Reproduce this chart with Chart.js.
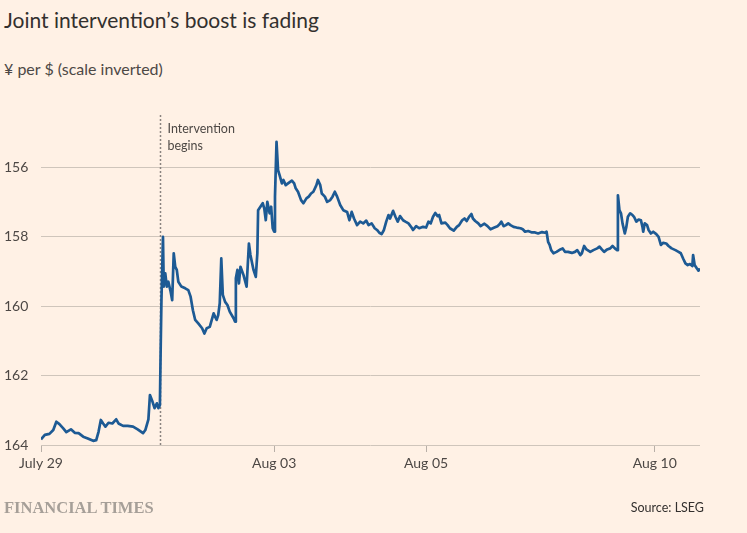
<!DOCTYPE html>
<html>
<head>
<meta charset="utf-8">
<script src="https://cdn.jsdelivr.net/npm/chart.js@4.4.1/dist/chart.umd.min.js"></script>
<style>
  html, body { margin:0; padding:0; background:#FFF1E5; }
  body { width:747px; height:533px; position:relative; overflow:hidden; font-family:Lato, "Noto Sans", sans-serif; color:#33302e; }
  #title { position:absolute; left:4px; top:7px; font-size:21px; white-space:nowrap; }
  #sub { position:absolute; left:4px; top:59px; font-size:16px; color:#4d4845; white-space:nowrap; }
  #ft { position:absolute; left:4px; top:498px; font-family:"Liberation Serif", "DejaVu Serif", serif; font-weight:bold; font-size:16.5px; color:#a69f98; letter-spacing:0px; white-space:nowrap; }
  #src { position:absolute; right:43px; top:500px; font-size:12.5px; color:#33302e; white-space:nowrap; }
  canvas { position:absolute; left:0; top:0; }
</style>
</head>
<body>
<div id="title">Joint intervention’s boost is fading</div>
<div id="sub">¥ per $ (scale inverted)</div>
<canvas id="c" width="747" height="533" style="width:747px;height:533px"></canvas>
<div id="ft">FINANCIAL TIMES</div>
<div id="src">Source: LSEG</div>
<script>
// time in trading days since July 29 (00:00)
const tradingDay = [
  0.00,0.05,0.11,0.16,0.20,0.24,0.29,0.33,0.39,0.44,
  0.49,0.55,0.61,0.68,0.72,0.75,0.78,0.81,0.84,0.88,
  0.93,0.98,1.01,1.07,1.13,1.20,1.26,1.33,1.36,1.40,
  1.42,1.45,1.48,1.51,1.53,1.55,1.56,1.57,1.59,1.60,
  1.62,1.64,1.66,1.69,1.71,1.73,1.75,1.77,1.79,1.83,
  1.88,1.92,1.95,1.98,2.01,2.05,2.10,2.13,2.16,2.20,
  2.25,2.27,2.29,2.31,2.33,2.35,2.37,2.40,2.43,2.46,
  2.51,2.53,2.54,2.56,2.58,2.60,2.64,2.68,2.71,2.73,
  2.77,2.80,2.82,2.83,2.86,2.89,2.91,2.93,2.95,2.98,
  3.00,3.02,3.04,3.05,3.07,3.09,3.11,3.14,3.16,3.19,
  3.22,3.27,3.30,3.32,3.35,3.39,3.42,3.46,3.49,3.52,
  3.55,3.59,3.61,3.64,3.66,3.70,3.73,3.77,3.80,3.83,
  3.86,3.90,3.94,3.99,4.02,4.05,4.08,4.12,4.16,4.20,
  4.24,4.27,4.31,4.35,4.38,4.41,4.44,4.47,4.50,4.53,
  4.55,4.59,4.62,4.65,4.68,4.72,4.75,4.79,4.83,4.85,
  4.89,4.93,4.98,5.02,5.05,5.08,5.11,5.14,5.17,5.19,
  5.22,5.27,5.30,5.33,5.38,5.42,5.45,5.49,5.52,5.55,
  5.58,5.61,5.63,5.66,5.70,5.73,5.78,5.82,5.86,5.91,
  5.95,5.98,6.00,6.03,6.06,6.09,6.12,6.16,6.20,6.25,
  6.28,6.31,6.35,6.40,6.44,6.48,6.53,6.57,6.59,6.61,
  6.63,6.65,6.68,6.72,6.77,6.80,6.83,6.87,6.92,6.96,
  6.99,7.03,7.05,7.08,7.11,7.16,7.20,7.25,7.28,7.31,
  7.34,7.38,7.42,7.45,7.48,7.51,7.52,7.54,7.56,7.58,
  7.61,7.63,7.65,7.68,7.71,7.73,7.76,7.79,7.82,7.84,
  7.85,7.87,7.90,7.92,7.95,7.98,8.02,8.05,8.08,8.11,
  8.15,8.18,8.22,8.27,8.31,8.34,8.37,8.40,8.43,8.46,
  8.49,8.50,8.52,8.55,8.57,8.59
];
const yenPerDollar = [
  163.84,163.71,163.68,163.57,163.33,163.40,163.52,163.63,163.55,163.65,
  163.66,163.76,163.81,163.88,163.86,163.62,163.28,163.38,163.47,163.36,
  163.38,163.26,163.38,163.45,163.45,163.47,163.55,163.66,163.57,163.26,
  162.56,162.73,162.94,162.80,162.94,162.85,161.21,159.83,158.01,159.44,
  159.06,159.44,159.30,159.59,159.83,158.48,158.87,158.96,159.30,159.44,
  159.49,159.54,159.73,160.12,160.40,160.50,160.64,160.79,160.64,160.60,
  160.21,160.31,160.40,160.26,159.92,158.63,159.68,159.88,159.97,160.16,
  160.35,160.45,159.20,158.96,159.35,158.87,159.11,159.44,158.20,158.53,
  158.96,159.16,158.48,157.24,157.14,157.04,157.19,157.53,157.00,157.33,
  157.14,157.76,157.86,156.85,155.27,156.09,156.23,156.47,156.37,156.52,
  156.47,156.39,156.47,156.61,156.71,156.95,157.04,156.90,156.85,156.76,
  156.71,156.52,156.37,156.52,156.76,156.85,157.00,156.95,156.85,156.71,
  156.85,157.09,157.24,157.29,157.53,157.29,157.48,157.67,157.57,157.62,
  157.54,157.67,157.62,157.76,157.81,157.89,157.93,157.81,157.57,157.38,
  157.48,157.26,157.43,157.57,157.41,157.53,157.57,157.62,157.74,157.81,
  157.70,157.76,157.72,157.74,157.57,157.62,157.43,157.32,157.41,157.38,
  157.62,157.60,157.67,157.76,157.83,157.72,157.67,157.53,157.48,157.55,
  157.43,157.35,157.48,157.55,157.62,157.70,157.63,157.70,157.79,157.74,
  157.70,157.64,157.57,157.70,157.67,157.62,157.67,157.72,157.74,157.76,
  157.79,157.86,157.84,157.88,157.88,157.91,157.87,157.89,157.86,158.15,
  158.24,158.39,158.48,158.44,158.37,158.34,158.44,158.44,158.47,158.44,
  158.39,158.53,158.48,158.27,158.37,158.44,158.39,158.34,158.29,158.37,
  158.44,158.37,158.34,158.27,158.34,158.39,156.81,157.24,157.33,157.62,
  157.91,157.72,157.43,157.33,157.38,157.43,157.57,157.51,157.53,157.72,
  157.86,157.62,157.67,157.81,157.91,157.86,157.93,158.01,158.24,158.18,
  158.20,158.27,158.34,158.39,158.44,158.48,158.63,158.77,158.82,158.79,
  158.85,158.53,158.82,158.92,158.98,158.92
];
const xTickValues = [0, 3.04, 5.02, 8.00];
const xTickLabels = ['July 29', 'Aug 03', 'Aug 05', 'Aug 10'];
const yTickValues = [156, 158, 160, 162, 164];
const interventionDay = 1.55;
const interventionLabel = ['Intervention', 'begins'];

const points = tradingDay.map((d, i) => ({ x: d, y: yenPerDollar[i] }));
const tickFont = { family: 'Lato, "Noto Sans", sans-serif', size: 14 };

const annotate = {
  id: 'annotate',
  beforeDatasetsDraw(chart) {
    const { ctx, chartArea, scales } = chart;
    const x = Math.round(scales.x.getPixelForValue(interventionDay)) + 0.5;
    ctx.save();
    ctx.strokeStyle = '#8a8480';
    ctx.lineWidth = 1.5;
    ctx.setLineDash([2, 2]);
    ctx.beginPath();
    ctx.moveTo(x, chartArea.top);
    ctx.lineTo(x, chartArea.bottom);
    ctx.stroke();
    ctx.setLineDash([]);
    ctx.fillStyle = '#4d4845';
    ctx.font = '12.5px Lato, "Noto Sans", sans-serif';
    ctx.textBaseline = 'middle';
    ctx.textAlign = 'left';
    interventionLabel.forEach((t, i) => ctx.fillText(t, x + 7, chartArea.top + 14 + i * 17));
    ctx.restore();
  }
};

new Chart(document.getElementById('c'), {
  type: 'line',
  data: {
    datasets: [{
      data: points,
      borderColor: '#1d5a94',
      borderWidth: 2.7,
      pointRadius: 0,
      tension: 0,
      borderJoinStyle: 'round'
    }]
  },
  options: {
    responsive: false,
    animation: false,
    devicePixelRatio: 1,
    layout: { padding: { left: 4, right: 47, top: 115, bottom: 0 } },
    plugins: { legend: { display: false }, tooltip: { enabled: false } },
    scales: {
      x: {
        type: 'linear',
        min: 0,
        max: 8.59,
        afterFit(s) { s.height = 88; },
        afterBuildTicks(s) { s.ticks = xTickValues.map(v => ({ value: v })); },
        ticks: {
          autoSkip: false,
          maxRotation: 0,
          padding: 3,
          color: '#4d4845',
          font: tickFont,
          callback(v, i) { return xTickLabels[i]; }
        },
        grid: { drawOnChartArea: false, drawTicks: true, tickLength: 7, color: '#b8afa7', lineWidth: 1 },
        border: { display: false }
      },
      y: {
        type: 'linear',
        reverse: true,
        min: 154.5,
        max: 164,
        afterFit(s) { s.width = 37; },
        afterBuildTicks(s) { s.ticks = yTickValues.map(v => ({ value: v })); },
        ticks: {
          crossAlign: 'far',
          padding: 0,
          color: '#4d4845',
          font: tickFont,
          callback(v) { return String(v); }
        },
        grid: { drawTicks: false, color: '#cfc5bb', lineWidth: 1 },
        border: { display: false }
      }
    }
  },
  plugins: [annotate]
});
</script>
</body>
</html>
